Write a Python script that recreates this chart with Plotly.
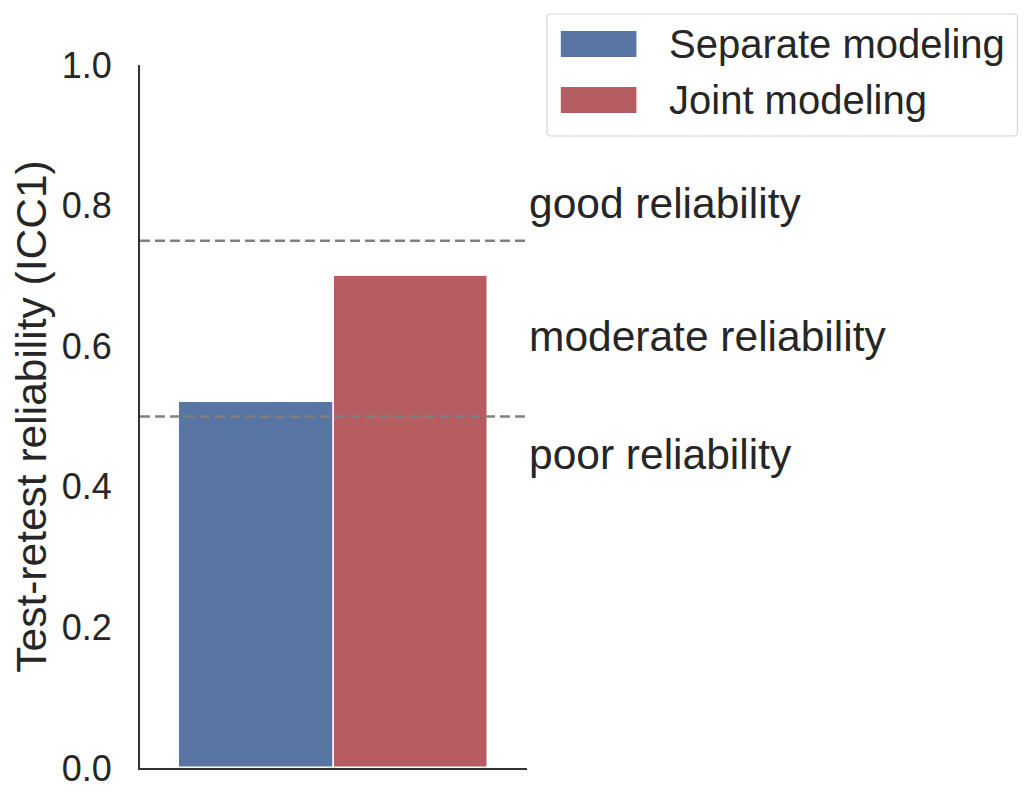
import plotly.graph_objects as go

# data
models = ['Separate modeling', 'Joint modeling']
icc = [0.52, 0.70]
bar_colors = ['#5975a4', '#b55d60']
bar_x = [-0.2, 0.2]

thresholds = [0.5, 0.75]
zone_labels = ['good reliability', 'moderate reliability', 'poor reliability']
zone_y = [0.803, 0.614, 0.446]

# page size and plot-area edges in page pixels
W, H = 1036, 804
L, R, T, B = 138, 527, 65, 768
OFF = 8  # browser body margin
FONT = 'Liberation Sans, Arial, sans-serif'
TXT = '#262626'


def px_x(p):
    return (p - L) / (R - L)


def px_y(p):
    return (B - p) / (B - T)


def rounded_box(x0, y0, x1, y1, r):
    # path in paper coords from page pixel corners, corner radius r px
    pts = []
    pts.append(f'M {px_x(x0 + r)},{px_y(y0)}')
    pts.append(f'L {px_x(x1 - r)},{px_y(y0)}')
    pts.append(f'Q {px_x(x1)},{px_y(y0)} {px_x(x1)},{px_y(y0 + r)}')
    pts.append(f'L {px_x(x1)},{px_y(y1 - r)}')
    pts.append(f'Q {px_x(x1)},{px_y(y1)} {px_x(x1 - r)},{px_y(y1)}')
    pts.append(f'L {px_x(x0 + r)},{px_y(y1)}')
    pts.append(f'Q {px_x(x0)},{px_y(y1)} {px_x(x0)},{px_y(y1 - r)}')
    pts.append(f'L {px_x(x0)},{px_y(y0 + r)}')
    pts.append(f'Q {px_x(x0)},{px_y(y0)} {px_x(x0 + r)},{px_y(y0)} Z')
    return ' '.join(pts)


fig = go.Figure()
for name, val, col, xx in zip(models, icc, bar_colors, bar_x):
    fig.add_trace(go.Bar(x=[xx], y=[val], width=0.4, name=name,
                         marker=dict(color=col, line=dict(color='white', width=1.5)),
                         showlegend=False))

# threshold lines
for t in thresholds:
    fig.add_shape(type='line', xref='x', yref='y', x0=-0.5, x1=0.5, y0=t, y1=t,
                  line=dict(color='gray', width=2.5, dash='10px,5px'))

# zone labels
for lab, yy in zip(zone_labels, zone_y):
    fig.add_annotation(x=0.5, y=yy, xref='x', yref='y', text=lab, showarrow=False,
                       xanchor='left', yanchor='middle',
                       font=dict(size=42.5, color=TXT, family=FONT))

# legend box drawn by hand so the swatches can be wide
fig.add_shape(type='path', xref='paper', yref='paper',
              path=rounded_box(547, 14, 1020, 136, 4),
              line=dict(color='#d4d4d4', width=1.2), fillcolor='white', layer='above')
for i, (name, col) in enumerate(zip(models, bar_colors)):
    top = 31 + 56 * i
    fig.add_shape(type='rect', xref='paper', yref='paper',
                  x0=px_x(561), x1=px_x(637), y0=px_y(top + 26), y1=px_y(top),
                  line=dict(width=0), fillcolor=col, layer='above')
    fig.add_annotation(x=px_x(668), y=px_y(top + 13), xref='paper', yref='paper',
                       text=name, showarrow=False, xanchor='left', yanchor='middle',
                       font=dict(size=40, color=TXT, family=FONT))

fig.update_layout(
    width=W - OFF, height=H - OFF,
    margin=dict(l=L - OFF, r=W - R, t=T - OFF, b=H - B, pad=0),
    plot_bgcolor='white', paper_bgcolor='white',
    font=dict(family=FONT, size=36, color=TXT),
    bargap=0,
)
fig.update_xaxes(range=[-0.5, 0.5], showticklabels=False, ticks='', showgrid=False,
                 zeroline=False, showline=True, linecolor='#333333', linewidth=2)
fig.update_yaxes(range=[0, 1], tickvals=[0, 0.2, 0.4, 0.6, 0.8, 1.0], tickformat='.1f',
                 ticks='outside', ticklen=19, tickcolor='rgba(0,0,0,0)',
                 showgrid=False, zeroline=False, showline=True, linecolor='#333333',
                 linewidth=2,
                 title=dict(text='Test-retest reliability (ICC1)', standoff=12,
                            font=dict(size=42.5, color=TXT)),
                 tickfont=dict(size=36, color=TXT))

fig.write_html('out.html')
